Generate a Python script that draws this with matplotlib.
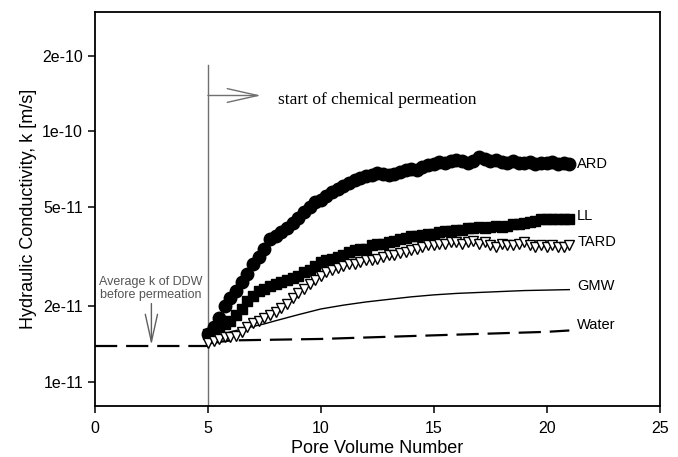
import matplotlib
matplotlib.use("Agg")
import matplotlib.pyplot as plt
import matplotlib.ticker as mtick
import numpy as np

plt.rcParams.update({
    "font.family": ["Liberation Sans", "DejaVu Sans"],
    "font.size": 11,
    "axes.linewidth": 1.3,
})

# Pore volume number (shared sampling of the measured series)
PV = [5.0, 5.25, 5.5, 5.75, 6.0, 6.25, 6.5, 6.75, 7.0, 7.25, 7.5, 7.75,
      8.0, 8.25, 8.5, 8.75, 9.0, 9.25, 9.5, 9.75, 10.0, 10.25, 10.5, 10.75,
      11.0, 11.25, 11.5, 11.75, 12.0, 12.25, 12.5, 12.75, 13.0, 13.25, 13.5,
      13.75, 14.0, 14.25, 14.5, 14.75, 15.0, 15.25, 15.5, 15.75, 16.0, 16.25,
      16.5, 16.75, 17.0, 17.25, 17.5, 17.75, 18.0, 18.25, 18.5, 18.75, 19.0,
      19.25, 19.5, 19.75, 20.0, 20.25, 20.5, 20.75, 21.0]

# hydraulic conductivity, in units of 1e-11 m/s
ARD = [1.55, 1.65, 1.8, 2.0, 2.15, 2.3, 2.5, 2.7, 2.95, 3.15, 3.4, 3.7,
       3.8, 3.95, 4.1, 4.3, 4.5, 4.75, 5.0, 5.2, 5.3, 5.5, 5.7, 5.9,
       6.05, 6.2, 6.4, 6.5, 6.6, 6.7, 6.8, 6.75, 6.7, 6.75, 6.9,
       7.0, 7.05, 7.0, 7.2, 7.35, 7.4, 7.55, 7.5, 7.6, 7.7, 7.6,
       7.45, 7.6, 7.9, 7.75, 7.6, 7.7, 7.55, 7.5, 7.6, 7.45, 7.5,
       7.55, 7.4, 7.5, 7.45, 7.55, 7.4, 7.45, 7.4]
LL = [1.55, 1.6, 1.65, 1.7, 1.75, 1.85, 1.95, 2.1, 2.2, 2.3, 2.35, 2.4,
      2.45, 2.5, 2.55, 2.6, 2.65, 2.75, 2.8, 2.9, 3.0, 3.05, 3.1, 3.15,
      3.2, 3.3, 3.35, 3.4, 3.4, 3.5, 3.55, 3.55, 3.6, 3.65, 3.7,
      3.75, 3.8, 3.8, 3.85, 3.9, 3.9, 3.95, 4.0, 4.0, 4.05, 4.05,
      4.1, 4.1, 4.15, 4.1, 4.15, 4.2, 4.15, 4.2, 4.25, 4.25, 4.3,
      4.35, 4.4, 4.45, 4.45, 4.45, 4.45, 4.45, 4.45]
TARD = [1.42, 1.45, 1.48, 1.5, 1.5, 1.52, 1.58, 1.65, 1.72, 1.75, 1.8, 1.85,
        1.9, 1.97, 2.05, 2.15, 2.25, 2.35, 2.45, 2.55, 2.65, 2.75, 2.8, 2.85,
        2.9, 2.95, 2.95, 3.0, 3.05, 3.05, 3.1, 3.15, 3.2, 3.2, 3.25,
        3.3, 3.35, 3.4, 3.45, 3.5, 3.5, 3.55, 3.55, 3.6, 3.6, 3.55,
        3.6, 3.65, 3.55, 3.6, 3.5, 3.45, 3.55, 3.5, 3.5, 3.55, 3.6,
        3.5, 3.45, 3.5, 3.45, 3.5, 3.45, 3.45, 3.5]

GMW_PV = [5.0, 5.5, 6.0, 6.5, 7.0, 7.5, 8.0, 9.0, 10.0, 11.0, 12.0, 13.0,
          14.0, 15.0, 16.0, 17.0, 18.0, 19.0, 20.0, 21.0]
GMW = [1.45, 1.52, 1.58, 1.62, 1.66, 1.7, 1.75, 1.85, 1.95, 2.02, 2.08, 2.13,
       2.18, 2.22, 2.25, 2.27, 2.29, 2.31, 2.32, 2.33]

WATER_PV = [5.0, 6.0, 8.0, 10.0, 12.0, 14.0, 16.0, 18.0, 20.0, 21.0]
WATER = [1.42, 1.46, 1.47, 1.48, 1.5, 1.52, 1.54, 1.56, 1.58, 1.6]

DDW_PV = [0.0, 5.0]
DDW = [1.39, 1.39]

UNIT = 1e-11
Y_TICKS = [1e-11, 2e-11, 5e-11, 1e-10, 2e-10]
Y_TICK_LABELS = ["1e-11", "2e-11", "5e-11", "1e-10", "2e-10"]

fig = plt.figure(figsize=(6.78, 4.57), dpi=100)
ax = fig.add_axes([0.140, 0.112, 0.833, 0.862])


def scaled(vals):
    return np.array(vals) * UNIT


ax.plot(PV, scaled(ARD), "o", color="black", ms=9, mec="black", zorder=3)
ax.plot(PV, scaled(LL), "s", color="black", ms=7, mec="black", zorder=4)
ax.plot(PV, scaled(TARD), "v", mfc="white", mec="black", ms=6.5, mew=1.0,
        zorder=5)
ax.plot(GMW_PV, scaled(GMW), "-", color="black", lw=1.0, zorder=2)
ax.plot(WATER_PV, scaled(WATER), color="black", lw=1.6, dashes=(10, 4),
        zorder=2)
ax.plot(DDW_PV, scaled(DDW), color="black", lw=1.6, dashes=(10, 4), zorder=2)

# series labels at the end of each curve
ends = [("ARD", ARD[-1]), ("LL", LL[-1]), ("TARD", TARD[-1]),
        ("GMW", GMW[-1]), ("Water", WATER[-1])]
offs = {"ARD": 1.0, "LL": 1.03, "TARD": 1.03, "GMW": 1.03, "Water": 1.05}
for name, v in ends:
    ax.text(21.35, v * UNIT * offs[name], name, fontsize=10.5, va="center",
            ha="left")

ax.set_yscale("log")
ax.set_xlim(0, 25)
ax.set_ylim(8e-12, 3e-10)
ax.yaxis.set_major_locator(mtick.FixedLocator(Y_TICKS))
ax.yaxis.set_major_formatter(mtick.FixedFormatter(Y_TICK_LABELS))
ax.yaxis.set_minor_locator(mtick.NullLocator())
ax.set_xticks([0, 5, 10, 15, 20, 25])
ax.tick_params(direction="out", length=5, width=1.1, labelsize=11.5)
ax.tick_params(axis="x", pad=6)

ax.set_xlabel("Pore Volume Number", fontsize=13, labelpad=3)
ax.set_ylabel("Hydraulic Conductivity, k [m/s]", fontsize=13, labelpad=4)

# start of chemical permeation marker
ax.plot([5, 5], [8e-12, 1.84e-10], color="#707070", lw=1.0, zorder=1)
ax.annotate("", xy=(7.35, 1.39e-10), xytext=(5, 1.39e-10),
            arrowprops=dict(arrowstyle="->,head_length=2.0,head_width=0.45",
                            color="#707070", lw=1.0, shrinkA=0, shrinkB=0))
ax.text(8.1, 1.33e-10, "start of chemical permeation",
        family=["Liberation Serif", "DejaVu Serif"], fontsize=12.5,
        va="center", ha="left")

# average k of DDW annotation
ax.annotate("", xy=(2.5, 1.40e-11), xytext=(2.5, 2.05e-11),
            arrowprops=dict(arrowstyle="->,head_length=1.8,head_width=0.4",
                            color="#606060", lw=1.0, shrinkA=0, shrinkB=0))
ax.text(2.45, 2.35e-11, "Average k of DDW\nbefore permeation", fontsize=9,
        color="#555555", ha="center", va="center", linespacing=1.1)

fig.savefig("out.png", dpi=100)
